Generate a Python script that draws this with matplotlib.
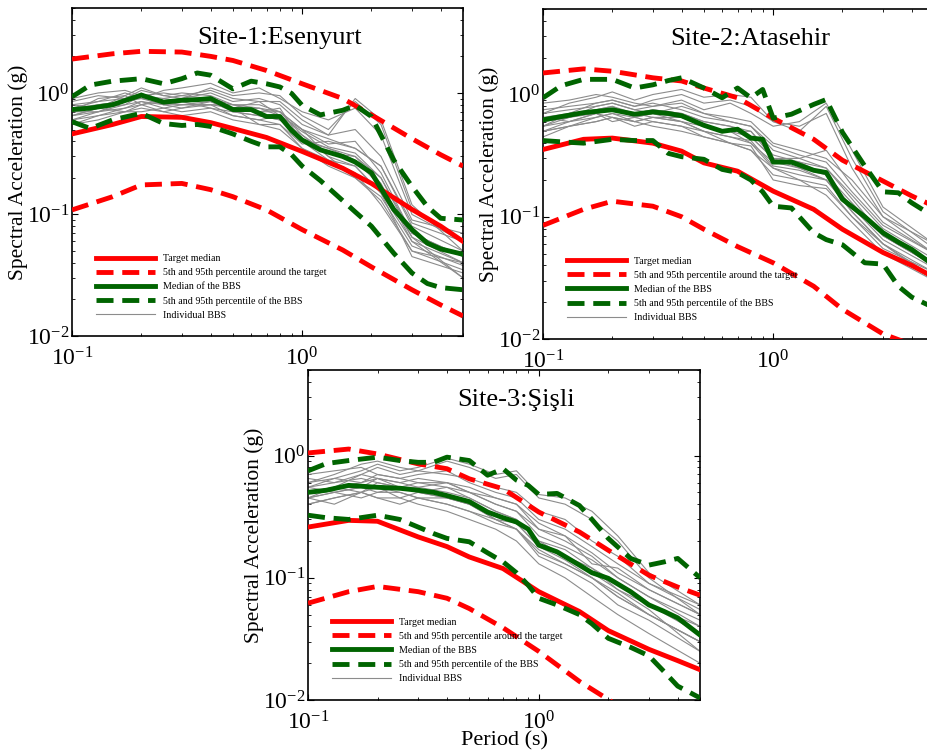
import matplotlib
matplotlib.use("Agg")
import matplotlib.pyplot as plt
from matplotlib.ticker import LogLocator, NullFormatter

plt.rcParams['font.family'] = ['Liberation Serif', 'DejaVu Serif']
plt.rcParams['mathtext.fontset'] = 'custom'
plt.rcParams['mathtext.rm'] = 'Liberation Serif'
plt.rcParams['mathtext.it'] = 'Liberation Serif:italic'

# period grids (s)
t_red = [0.1, 0.15, 0.2, 0.3, 0.4, 0.5, 0.7, 1.0, 1.5, 2.0, 3.0, 4.0, 5.0]
t_bbs = [0.1, 0.12, 0.15, 0.2, 0.25, 0.3, 0.35, 0.4, 0.5, 0.6, 0.7, 0.8, 0.9,
         1.0, 1.2, 1.5, 1.7, 2.0, 2.5, 3.0, 3.5, 4.0, 5.0]
t_ind = [0.1, 0.13, 0.17, 0.2, 0.25, 0.3, 0.4, 0.5, 0.65, 0.8, 1.0, 1.3, 1.7, 2.2, 3.0, 5.0]

titles = ['Site-1:Esenyurt', 'Site-2:Atasehir', 'Site-3:Şişli']

# target spectra
target_med = [
    [0.46, 0.55, 0.64, 0.63, 0.57, 0.51, 0.43, 0.33, 0.24, 0.18, 0.11, 0.08, 0.06],
    [0.355, 0.43, 0.44, 0.40, 0.344, 0.276, 0.236, 0.162, 0.115, 0.079, 0.051, 0.04, 0.032],
    [0.26, 0.295, 0.29, 0.216, 0.18, 0.148, 0.119, 0.077, 0.053, 0.037, 0.026, 0.021, 0.0177],
]
target_hi = [
    [1.9, 2.1, 2.2, 2.17, 2.0, 1.85, 1.53, 1.19, 0.9, 0.66, 0.42, 0.31, 0.25],
    [1.5, 1.62, 1.55, 1.37, 1.29, 1.13, 0.94, 0.64, 0.43, 0.29, 0.196, 0.148, 0.122],
    [1.05, 1.13, 1.03, 0.855, 0.78, 0.645, 0.535, 0.345, 0.237, 0.168, 0.105, 0.084, 0.072],
]
target_lo = [
    [0.109, 0.14, 0.175, 0.18, 0.16, 0.14, 0.109, 0.075, 0.051, 0.037, 0.024, 0.018, 0.0146],
    [0.085, 0.115, 0.134, 0.122, 0.1, 0.079, 0.057, 0.042, 0.027, 0.0175, 0.011, 0.009, 0.008],
    [0.062, 0.077, 0.085, 0.077, 0.068, 0.056, 0.039, 0.025, 0.0142, 0.0101, 0.006, 0.0045, 0.0035],
]

# BBS statistics
bbs_med = [
    [0.73, 0.75, 0.80, 0.96, 0.84, 0.87, 0.88, 0.90, 0.73, 0.73, 0.64, 0.64, 0.49, 0.41, 0.34,
     0.30, 0.27, 0.22, 0.11, 0.075, 0.058, 0.052, 0.047],
    [0.62, 0.66, 0.71, 0.75, 0.69, 0.72, 0.70, 0.67, 0.56, 0.50, 0.52, 0.44, 0.43, 0.28, 0.28,
     0.24, 0.23, 0.139, 0.10, 0.074, 0.062, 0.054, 0.04],
    [0.50, 0.52, 0.57, 0.55, 0.54, 0.52, 0.50, 0.47, 0.42, 0.345, 0.31, 0.286, 0.25, 0.185, 0.163,
     0.127, 0.11, 0.099, 0.077, 0.06, 0.053, 0.047, 0.034],
]
bbs_hi = [
    [0.93, 1.16, 1.25, 1.31, 1.19, 1.31, 1.46, 1.40, 1.08, 1.25, 1.19, 1.12, 0.99, 0.79, 0.66,
     0.72, 0.79, 0.64, 0.28, 0.17, 0.116, 0.093, 0.09],
    [0.94, 1.18, 1.33, 1.33, 1.13, 1.2, 1.3, 1.37, 1.13, 0.94, 1.13, 0.94, 1.1, 0.64, 0.69,
     0.83, 0.91, 0.49, 0.26, 0.16, 0.157, 0.13, 0.10],
    [0.75, 0.86, 0.91, 0.97, 0.91, 0.88, 0.88, 0.97, 0.91, 0.69, 0.78, 0.63, 0.57, 0.48, 0.49,
     0.39, 0.30, 0.21, 0.144, 0.127, 0.135, 0.144, 0.10],
]
bbs_lo = [
    [0.58, 0.51, 0.60, 0.68, 0.56, 0.54, 0.55, 0.53, 0.46, 0.40, 0.36, 0.36, 0.31, 0.25, 0.19,
     0.13, 0.105, 0.08, 0.048, 0.033, 0.027, 0.025, 0.024],
    [0.42, 0.41, 0.40, 0.43, 0.42, 0.42, 0.33, 0.31, 0.295, 0.244, 0.23, 0.2, 0.16, 0.122, 0.118,
     0.074, 0.065, 0.059, 0.042, 0.041, 0.027, 0.022, 0.018],
    [0.325, 0.31, 0.30, 0.325, 0.30, 0.26, 0.23, 0.21, 0.197, 0.16, 0.135, 0.11, 0.087, 0.068, 0.06,
     0.05, 0.042, 0.032, 0.027, 0.023, 0.017, 0.013, 0.0104],
]

# individual BBS spectra
ind_site1 = [
    [0.60, 0.70, 0.80, 0.95, 0.85, 0.90, 1.00, 0.85, 0.90, 0.80, 0.55, 0.45, 0.90, 0.60, 0.12, 0.05],
    [0.75, 0.85, 1.00, 0.90, 1.05, 1.10, 1.20, 1.00, 1.10, 0.90, 0.70, 0.60, 0.75, 0.45, 0.10, 0.06],
    [0.55, 0.60, 0.70, 0.75, 0.70, 0.65, 0.70, 0.60, 0.55, 0.50, 0.35, 0.28, 0.22, 0.12, 0.05, 0.035],
    [0.70, 0.80, 0.85, 1.00, 0.80, 0.80, 0.85, 0.70, 0.65, 0.60, 0.42, 0.35, 0.30, 0.20, 0.07, 0.045],
    [0.85, 0.95, 0.90, 1.05, 0.95, 1.00, 0.95, 0.80, 0.75, 0.70, 0.45, 0.30, 0.25, 0.15, 0.06, 0.04],
    [0.65, 0.75, 0.80, 0.85, 0.75, 0.80, 0.80, 0.65, 0.60, 0.55, 0.38, 0.40, 0.35, 0.25, 0.08, 0.05],
    [0.80, 0.75, 0.95, 0.80, 0.90, 0.85, 0.75, 0.70, 0.75, 0.65, 0.50, 0.30, 0.20, 0.14, 0.055, 0.038],
    [0.60, 0.65, 0.75, 0.80, 0.70, 0.75, 0.80, 0.75, 0.70, 0.75, 0.40, 0.35, 0.28, 0.17, 0.065, 0.03],
    [0.90, 1.00, 1.05, 0.95, 1.00, 0.95, 1.05, 0.90, 0.85, 0.85, 0.60, 0.45, 0.50, 0.30, 0.09, 0.07],
    [0.70, 0.70, 0.85, 0.90, 0.80, 0.75, 0.85, 0.75, 0.55, 0.55, 0.35, 0.25, 0.20, 0.13, 0.05, 0.04],
    [0.75, 0.80, 0.85, 0.95, 0.90, 0.95, 0.90, 0.80, 0.80, 0.70, 0.50, 0.38, 0.40, 0.22, 0.07, 0.045],
    [0.65, 0.70, 0.75, 0.85, 0.80, 0.85, 0.90, 0.70, 0.65, 0.60, 0.45, 0.32, 0.30, 0.18, 0.06, 0.03],
    [0.70, 0.90, 0.95, 1.10, 0.95, 0.90, 1.10, 0.95, 1.00, 0.95, 0.65, 0.50, 0.85, 0.55, 0.11, 0.06],
    [0.55, 0.65, 0.70, 0.70, 0.75, 0.70, 0.75, 0.65, 0.60, 0.65, 0.40, 0.28, 0.25, 0.15, 0.045, 0.033],
    [0.80, 0.85, 0.90, 0.90, 0.85, 0.80, 0.80, 0.80, 0.70, 0.70, 0.50, 0.42, 0.35, 0.25, 0.085, 0.06],
    [0.65, 0.75, 0.70, 0.80, 0.85, 0.90, 0.85, 0.75, 0.85, 0.65, 0.48, 0.36, 0.32, 0.20, 0.065, 0.04],
]
ind_site2 = [
    [0.55, 0.65, 0.80, 0.85, 0.75, 0.80, 0.90, 0.75, 0.85, 0.70, 0.55, 0.60, 0.85, 0.35, 0.12, 0.06],
    [0.70, 0.85, 0.95, 1.05, 0.90, 1.00, 1.10, 0.95, 1.00, 0.95, 0.60, 0.55, 0.70, 0.25, 0.10, 0.05],
    [0.50, 0.55, 0.60, 0.65, 0.60, 0.55, 0.50, 0.45, 0.40, 0.35, 0.22, 0.20, 0.15, 0.09, 0.05, 0.03],
    [0.60, 0.70, 0.75, 0.80, 0.70, 0.75, 0.70, 0.60, 0.55, 0.45, 0.30, 0.30, 0.25, 0.15, 0.08, 0.045],
    [0.65, 0.60, 0.70, 0.65, 0.60, 0.65, 0.60, 0.50, 0.45, 0.40, 0.25, 0.22, 0.20, 0.12, 0.07, 0.04],
    [0.55, 0.60, 0.65, 0.70, 0.65, 0.60, 0.55, 0.45, 0.40, 0.38, 0.20, 0.18, 0.17, 0.10, 0.055, 0.035],
    [0.75, 0.80, 0.85, 0.90, 0.80, 0.85, 0.75, 0.65, 0.60, 0.55, 0.35, 0.30, 0.35, 0.18, 0.09, 0.05],
    [0.50, 0.60, 0.70, 0.60, 0.65, 0.70, 0.60, 0.55, 0.50, 0.40, 0.28, 0.25, 0.20, 0.11, 0.06, 0.03],
    [0.60, 0.65, 0.75, 0.80, 0.65, 0.70, 0.65, 0.55, 0.50, 0.45, 0.30, 0.28, 0.25, 0.14, 0.07, 0.04],
    [0.45, 0.55, 0.60, 0.65, 0.55, 0.60, 0.55, 0.50, 0.40, 0.35, 0.25, 0.20, 0.18, 0.10, 0.06, 0.035],
    [0.85, 0.90, 1.00, 0.95, 0.85, 0.80, 0.85, 0.70, 0.65, 0.60, 0.40, 0.35, 0.30, 0.20, 0.10, 0.06],
    [0.65, 0.70, 0.70, 0.75, 0.70, 0.75, 0.70, 0.60, 0.55, 0.50, 0.30, 0.25, 0.22, 0.12, 0.065, 0.038],
    [0.55, 0.70, 0.85, 0.90, 0.80, 0.90, 1.00, 0.85, 0.90, 0.80, 0.60, 0.50, 0.80, 0.30, 0.11, 0.055],
    [0.60, 0.65, 0.70, 0.75, 0.70, 0.65, 0.65, 0.55, 0.50, 0.50, 0.32, 0.28, 0.22, 0.13, 0.07, 0.04],
    [0.50, 0.55, 0.65, 0.70, 0.60, 0.65, 0.60, 0.50, 0.45, 0.42, 0.26, 0.24, 0.20, 0.11, 0.06, 0.032],
    [0.70, 0.75, 0.80, 0.85, 0.75, 0.70, 0.80, 0.70, 0.60, 0.55, 0.38, 0.32, 0.28, 0.16, 0.085, 0.05],
]
ind_site3 = [
    [0.45, 0.55, 0.70, 0.80, 0.70, 0.75, 0.90, 0.80, 0.65, 0.70, 0.45, 0.40, 0.30, 0.20, 0.10, 0.05],
    [0.60, 0.70, 0.85, 0.90, 0.80, 0.75, 0.70, 0.65, 0.55, 0.50, 0.35, 0.30, 0.20, 0.15, 0.09, 0.06],
    [0.40, 0.45, 0.50, 0.45, 0.45, 0.40, 0.35, 0.30, 0.25, 0.20, 0.13, 0.10, 0.07, 0.05, 0.035, 0.02],
    [0.50, 0.55, 0.60, 0.65, 0.55, 0.55, 0.50, 0.45, 0.35, 0.30, 0.20, 0.17, 0.12, 0.09, 0.06, 0.035],
    [0.55, 0.50, 0.55, 0.50, 0.50, 0.45, 0.40, 0.35, 0.28, 0.25, 0.15, 0.12, 0.09, 0.06, 0.045, 0.025],
    [0.45, 0.50, 0.45, 0.50, 0.55, 0.60, 0.55, 0.50, 0.40, 0.35, 0.25, 0.20, 0.15, 0.10, 0.07, 0.04],
    [0.65, 0.60, 0.70, 0.65, 0.60, 0.65, 0.60, 0.50, 0.45, 0.40, 0.25, 0.22, 0.13, 0.12, 0.08, 0.05],
    [0.40, 0.45, 0.50, 0.45, 0.40, 0.45, 0.40, 0.35, 0.30, 0.25, 0.16, 0.13, 0.10, 0.07, 0.05, 0.03],
    [0.55, 0.60, 0.65, 0.60, 0.55, 0.50, 0.55, 0.45, 0.35, 0.30, 0.20, 0.15, 0.12, 0.08, 0.06, 0.04],
    [0.45, 0.50, 0.55, 0.55, 0.50, 0.45, 0.45, 0.40, 0.30, 0.28, 0.18, 0.14, 0.10, 0.075, 0.05, 0.03],
    [0.70, 0.75, 0.80, 0.70, 0.65, 0.70, 0.75, 0.60, 0.50, 0.45, 0.30, 0.25, 0.18, 0.13, 0.09, 0.055],
    [0.50, 0.55, 0.50, 0.60, 0.55, 0.50, 0.45, 0.40, 0.30, 0.25, 0.17, 0.13, 0.10, 0.07, 0.05, 0.03],
    [0.55, 0.65, 0.75, 0.85, 0.75, 0.80, 0.95, 0.85, 0.70, 0.75, 0.48, 0.45, 0.35, 0.22, 0.11, 0.06],
    [0.50, 0.55, 0.55, 0.65, 0.60, 0.55, 0.60, 0.50, 0.40, 0.35, 0.22, 0.18, 0.14, 0.10, 0.07, 0.045],
    [0.45, 0.40, 0.50, 0.55, 0.45, 0.50, 0.45, 0.40, 0.32, 0.28, 0.18, 0.15, 0.11, 0.08, 0.055, 0.025],
    [0.60, 0.65, 0.60, 0.70, 0.65, 0.60, 0.60, 0.55, 0.45, 0.40, 0.28, 0.22, 0.16, 0.11, 0.08, 0.05],
]
individual = [ind_site1, ind_site2, ind_site3]

# axes positions in figure fractions (left, bottom, width, height)
positions = [
    [0.0777, 0.555, 0.4218, 0.4344],
    [0.5858, 0.551, 0.4218, 0.437],
    [0.3323, 0.0728, 0.4229, 0.437],
]

RED = '#ff0000'
GREEN = '#006400'
DASH = (0, (3.5, 1.8))

fig = plt.figure(figsize=(9.27, 7.55), dpi=100)

for i in range(3):
    ax = fig.add_axes(positions[i])
    for k, s in enumerate(individual[i]):
        ax.plot(t_ind, s, color='#8c8c8c', lw=0.8, zorder=2,
                label='Individual BBS' if k == 0 else None)
    ax.plot(t_red, target_med[i], color=RED, lw=3.5, zorder=3, label='Target median')
    ax.plot(t_red, target_hi[i], color=RED, lw=3.5, ls=DASH, zorder=3,
            label='5th and 95th percentile around the target')
    ax.plot(t_red, target_lo[i], color=RED, lw=3.5, ls=DASH, zorder=3)
    ax.plot(t_bbs, bbs_med[i], color=GREEN, lw=3.5, zorder=4, label='Median of the BBS')
    ax.plot(t_bbs, bbs_hi[i], color=GREEN, lw=3.5, ls=DASH, zorder=4,
            label='5th and 95th percentile of the BBS')
    ax.plot(t_bbs, bbs_lo[i], color=GREEN, lw=3.5, ls=DASH, zorder=4)

    ax.set_xscale('log')
    ax.set_yscale('log')
    ax.set_xlim(0.1, 5)
    ax.set_ylim(0.01, 5)
    ax.xaxis.set_major_locator(LogLocator(base=10))
    ax.yaxis.set_major_locator(LogLocator(base=10))
    ax.xaxis.set_minor_formatter(NullFormatter())
    ax.yaxis.set_minor_formatter(NullFormatter())
    ax.tick_params(which='both', direction='in', top=True, right=True, labelsize=17)
    ax.tick_params(which='major', length=4)
    ax.tick_params(which='minor', length=2)
    ax.tick_params(axis='x', pad=8)
    ax.tick_params(axis='y', pad=2)
    for sp in ax.spines.values():
        sp.set_linewidth(1.2)
    ax.set_ylabel('Spectral Acceleration (g)', fontsize=15.5, labelpad=-1)
    ax.text(0.53, 0.91, titles[i], transform=ax.transAxes, ha='center', va='center',
            fontsize=19)

    handles, labels = ax.get_legend_handles_labels()
    order = [1, 2, 3, 4, 0]
    ax.legend([handles[j] for j in order], [labels[j] for j in order],
              loc='upper left', bbox_to_anchor=(0.05, 0.262), frameon=False,
              fontsize=7.2, handlelength=5.9, handletextpad=0.8, labelspacing=0.5,
              borderaxespad=0)

    if i == 2:
        ax.set_xlabel('Period (s)', fontsize=16, labelpad=-2)

fig.savefig('out.png', dpi=100)
